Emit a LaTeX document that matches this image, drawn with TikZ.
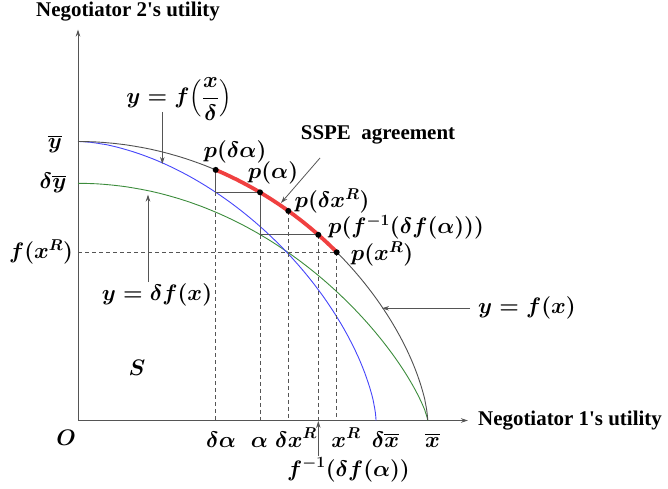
\RequirePackage{fix-cm}
\documentclass[tikz,border=0pt]{standalone}
\usepackage[no-math]{fontspec}
\setmainfont{Liberation Serif}[Ligatures=TeXOff]
\usepackage{amsmath}
\usetikzlibrary{arrows.meta}
\definecolor{axgray}{RGB}{85,85,85}
\definecolor{curvegray}{RGB}{80,80,80}
\definecolor{cblue}{RGB}{70,70,250}
\definecolor{cgreen}{RGB}{60,140,60}
\definecolor{cred}{RGB}{240,64,64}
\tikzset{
  ax/.style={draw=axgray, line width=0.8bp, -{Stealth[length=7bp,width=4.5bp]}},
  ptr/.style={draw=axgray, line width=0.8bp, -{Stealth[length=7bp,width=4.5bp]}},
  guide/.style={draw=axgray, line width=0.8bp},
  dashguide/.style={draw=axgray, line width=0.8bp, dash pattern=on 4bp off 3bp},
  curveblk/.style={draw=curvegray, line width=0.9bp},
  curveblue/.style={draw=cblue, line width=0.9bp},
  curvegreen/.style={draw=cgreen, line width=0.9bp},
  curvered/.style={draw=cred, line width=3.8bp},
  dot/.style={circle, fill=black, inner sep=0pt, minimum size=6bp},
  lbl/.style={font=\fontsize{22.5}{25}\selectfont\boldmath, inner sep=0pt},
  ttl/.style={font=\fontsize{21}{24}\selectfont\bfseries, inner sep=0pt},
}
\begin{document}
\begin{tikzpicture}[x=1bp,y=-1bp]
\useasboundingbox (0,0) rectangle (668,489);
% axes
\coordinate (O) at (78,420.5);
\coordinate (ytip) at (78,29.5);
\coordinate (xtip) at (468,420.5);
\draw[ax] (O) -- (ytip);
\draw[ax] (O) -- (xtip);
% key points
\coordinate (pda) at (215.7,169.9);
\coordinate (pa) at (260,192.3);
\coordinate (pdx) at (288.3,210.9);
\coordinate (pfi) at (318.3,234.8);
\coordinate (pxr) at (336.7,252.3);
\coordinate (bda) at (215.7,192.3);
\coordinate (ga) at (260,234.8);
\coordinate (yfxr) at (78,252.3);
\coordinate (xda) at (215.7,420.5);
\coordinate (xa) at (260,420.5);
\coordinate (xdx) at (288.3,420.5);
\coordinate (xfi) at (318.3,420.5);
\coordinate (xxr) at (336.7,420.5);
\coordinate (ybar) at (78,141.5);
\coordinate (dybar) at (78,183.3);
\coordinate (xbar) at (427.7,420.5);
\coordinate (dxbar) at (376,420.5);
% curves
\draw[curvegreen] (dybar) -- plot[domain=0:89.9, samples=150, variable=\t]
  ({78+349.7*sin(\t)}, {420.5-237.2*pow(cos(\t),1.54)}) -- (xbar);
\draw[curveblue] (ybar) -- plot[domain=0.2:89.9, samples=150, variable=\t]
  ({78+298*pow(sin(\t),1.1765)}, {420.5-279*pow(cos(\t),1.282)}) -- (dxbar);
\draw[curveblk] (ybar) -- plot[domain=0:89.9, samples=150, variable=\t]
  ({78+349.7*sin(\t)}, {420.5-279*pow(cos(\t),1.274)}) -- (xbar);
\draw[curvered] plot[domain=23.19:47.72, samples=40, variable=\t]
  ({78+349.7*sin(\t)}, {420.5-279*pow(cos(\t),1.274)});
% guides
\draw[guide] (pda) -- (bda) -- (pa) -- (ga) -- (pfi);
\draw[dashguide] (bda) -- (xda);
\draw[dashguide] (ga) -- (xa);
\draw[dashguide] (pdx) -- (xdx);
\draw[dashguide] (pfi) -- (xfi);
\draw[dashguide] (pxr) -- (xxr);
\draw[dashguide] (yfxr) -- (pxr);
% dots
\foreach \p in {pda,pa,pdx,pfi,pxr} \node[dot] (d\p) at (\p) {};
% pointers
\coordinate (a1s) at (162.3,112);  \coordinate (a1e) at (162.3,164);
\coordinate (a2s) at (148,282);    \coordinate (a2e) at (148,194.5);
\coordinate (a3s) at (470,308.3);  \coordinate (a3e) at (382,308.3);
\coordinate (a4s) at (320,158);    \coordinate (a4e) at (281,203);
\coordinate (a5s) at (318.3,456);  \coordinate (a5e) at (318.3,421);
\draw[ptr] (a1s) -- (a1e);
\draw[ptr] (a2s) -- (a2e);
\draw[ptr] (a3s) -- (a3e);
\draw[ptr] (a4s) -- (a4e);
\draw[ptr] (a5s) -- (a5e);
% titles
\node[ttl, anchor=base] (t2) at (128,17) {Negotiator 2's utility};
\node[ttl, anchor=base west] (t1) at (478,425.5) {Negotiator 1's utility};
\node[ttl, anchor=base] (sspe) at (378,140) {SSPE\ \ agreement};
% labels
\node[lbl, anchor=base] (lO) at (66,445) {$O$};
\node[lbl, anchor=base] (lS) at (137,375) {$S$};
\node[lbl, anchor=base] (lyb) at (55,149) {$\overline{y}$};
\node[lbl, anchor=base] (ldyb) at (53,189) {$\delta\overline{y}$};
\node[lbl, anchor=base] (lfxr) at (41,258.5) {$f(x^R)$};
\node[lbl, anchor=base] (lfxd) at (179,104) {$y=f\Bigl(\dfrac{x}{\delta}\Bigr)$};
\node[lbl, anchor=base] (ldf) at (157,300.5) {$y=\delta f(x)$};
\node[lbl, anchor=base] (lf) at (527,313.5) {$y=f(x)$};
\node[lbl, anchor=base] (lpda) at (235,157.5) {$p(\delta\alpha)$};
\node[lbl, anchor=base] (lpa) at (273,178.5) {$p(\alpha)$};
\node[lbl, anchor=base] (lpdx) at (332,207.5) {$p(\delta x^R)$};
\node[lbl, anchor=base] (lpfi) at (406,233.5) {$p(f^{-1}(\delta f(\alpha)))$};
\node[lbl, anchor=base] (lpxr) at (382,260.5) {$p(x^R)$};
\node[lbl, anchor=base] (lxda) at (221,447) {$\delta\alpha$};
\node[lbl, anchor=base] (lxa) at (259.5,447) {$\alpha$};
\node[lbl, anchor=base] (lxdx) at (296,447) {$\delta x^R$};
\node[lbl, anchor=base] (lxxr) at (346,447) {$x^R$};
\node[lbl, anchor=base] (lxdb) at (385.5,447) {$\delta\overline{x}$};
\node[lbl, anchor=base] (lxb) at (432.5,447) {$\overline{x}$};
\node[lbl, anchor=base] (lxfi) at (348.5,476) {$f^{-1}(\delta f(\alpha))$};
\end{tikzpicture}
\end{document}
